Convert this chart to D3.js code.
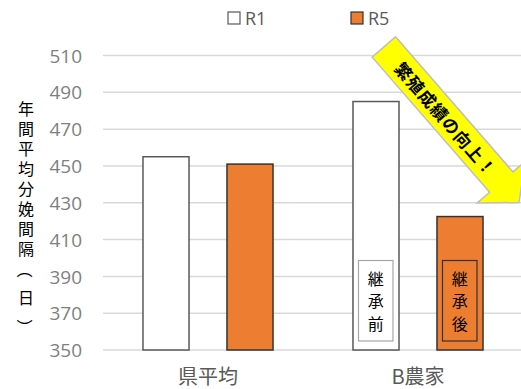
<!DOCTYPE html>
<html><head><meta charset="utf-8">
<script src="https://cdn.jsdelivr.net/npm/d3@7"></script>
<style>body{margin:0;background:#fff}svg{display:block}</style>
</head><body>
<svg id="chart" width="521" height="389"></svg>
<script>
const categories = ["県平均", "B農家"];
const seriesNames = ["R1", "R5"];
const valuesR1 = [455, 485];
const valuesR5 = [451, 422.5];
const yTicks = [350, 370, 390, 410, 430, 450, 470, 490, 510];
const yTitle = ["年","間","平","均","分","娩","間","隔","（","日","）"];
const colors = {R1: "#ffffff", R5: "#ED7D31"};
const strokes = {R1: "#595959", R5: "#333333"};

const svg = d3.select("#chart");
const y = d3.scaleLinear().domain([350, 510]).range([350, 55.5]);
const x0 = d3.scaleBand().domain(categories).range([103, 523]).padding(0);
const x1 = d3.scaleBand().domain(seriesNames).range([0, x0.bandwidth()]).paddingInner(0.452).paddingOuter(0.476);

// gridlines
svg.append("g").selectAll("line").data(yTicks).join("line")
  .attr("x1", 103).attr("x2", 521)
  .attr("y1", d => y(d)).attr("y2", d => y(d))
  .attr("stroke", "#d9d9d9").attr("stroke-width", 1.5);

// y axis labels
const yAxis = d3.axisLeft(y).tickValues(yTicks).tickSize(0).tickPadding(0);
const ga = svg.append("g").attr("transform", "translate(82,0)").call(yAxis);
ga.select(".domain").remove();
ga.selectAll("text").attr("fill", "#7f7f7f").attr("font-family", "'Open Sans', sans-serif").attr("font-size", 19).attr("dy", "0.35em");

// y title (vertical, one glyph per line; brackets turned to vertical form)
const yPos = [108,128,148,168,188,208,228,248,270,297,327];
svg.append("g").selectAll("text").data(yTitle).join("text")
  .attr("font-family", "'Noto Sans CJK JP', sans-serif").attr("font-size", 16).attr("fill", "#000")
  .attr("text-anchor", "middle").attr("dominant-baseline", "central")
  .attr("transform", (d,i) => `translate(26,${yPos[i]})` + ((d === "（" || d === "）") ? " rotate(90)" : ""))
  .text(d => d);

// x labels
const gx = svg.append("g").attr("transform", "translate(0,350)");
const xAxis = d3.axisBottom(x0).tickSize(0).tickPadding(0);
gx.call(xAxis);
gx.select(".domain").remove();
gx.selectAll("text").attr("fill", "#595959").attr("font-family", "'Noto Sans CJK JP', sans-serif").attr("font-size", 20).attr("dy", "0").attr("y", 34);

// bars
const data = categories.map((c, i) => ({cat: c, vals: [{s: "R1", v: valuesR1[i]}, {s: "R5", v: valuesR5[i]}]}));
const groups = svg.append("g").selectAll("g").data(data).join("g").attr("transform", d => `translate(${x0(d.cat)},0)`);
groups.selectAll("rect").data(d => d.vals).join("rect")
  .attr("x", d => x1(d.s)).attr("width", x1.bandwidth())
  .attr("y", d => y(d.v)).attr("height", d => y(350) - y(d.v))
  .attr("fill", d => colors[d.s]).attr("stroke", d => strokes[d.s]).attr("stroke-width", 1.5);

// callout boxes
const callouts = [{s: "R1", text: ["継","承","前"], fill: "#ffffff", stroke: "#a6a6a6"}, {s: "R5", text: ["継","承","後"], fill: "#ED7D31", stroke: "#333333"}];
callouts.forEach(c => {
  const bx = x0("B農家") + x1(c.s) + 5.5;
  const bw = 34.5;
  svg.append("rect").attr("x", bx).attr("y", 260.5).attr("width", bw).attr("height", 80.5)
    .attr("fill", c.fill).attr("stroke", c.stroke).attr("stroke-width", 1.2);
  const t = svg.append("text").attr("font-family", "'Noto Sans CJK JP', sans-serif").attr("font-size", 16).attr("text-anchor", "middle").attr("fill", "#000");
  t.selectAll("tspan").data(c.text).join("tspan").attr("x", bx + bw/2).attr("y", (d,i) => 278 + i*22.3).attr("dominant-baseline", "central").text(d => d);
});

// legend
const legend = [{s: "R1", x: 228, tx: 245}, {s: "R5", x: 351, tx: 368}];
legend.forEach(l => {
  svg.append("rect").attr("x", l.x).attr("y", 12).attr("width", 12).attr("height", 12)
    .attr("fill", colors[l.s]).attr("stroke", strokes[l.s]).attr("stroke-width", 1.2);
  svg.append("text").attr("x", l.tx).attr("y", 18).attr("dominant-baseline", "central")
    .attr("font-family", "'Open Sans', sans-serif").attr("font-size", 18).attr("fill", "#595959").text(l.s);
});

// arrow
const ag = svg.append("g").attr("transform", "translate(383.85,47) rotate(49)");
const pts = [[0,-15.5],[179,-15.5],[179,-32],[206,0],[179,32],[179,15.5],[0,15.5]];
ag.append("polygon").attr("points", pts.map(p => p.join(",")).join(" "))
  .attr("fill", "#FFFF00").attr("stroke", "#bfbfbf").attr("stroke-width", 1.5).attr("stroke-linejoin", "miter");
ag.append("text").attr("x", 95).attr("y", 0).attr("text-anchor", "middle").attr("dominant-baseline", "central")
  .attr("font-family", "'Noto Sans CJK JP', sans-serif").attr("font-weight", "bold").attr("font-size", 17)
  .attr("letter-spacing", 1).attr("fill", "#000").text("繁殖成績の向上！");
</script>
</body></html>
